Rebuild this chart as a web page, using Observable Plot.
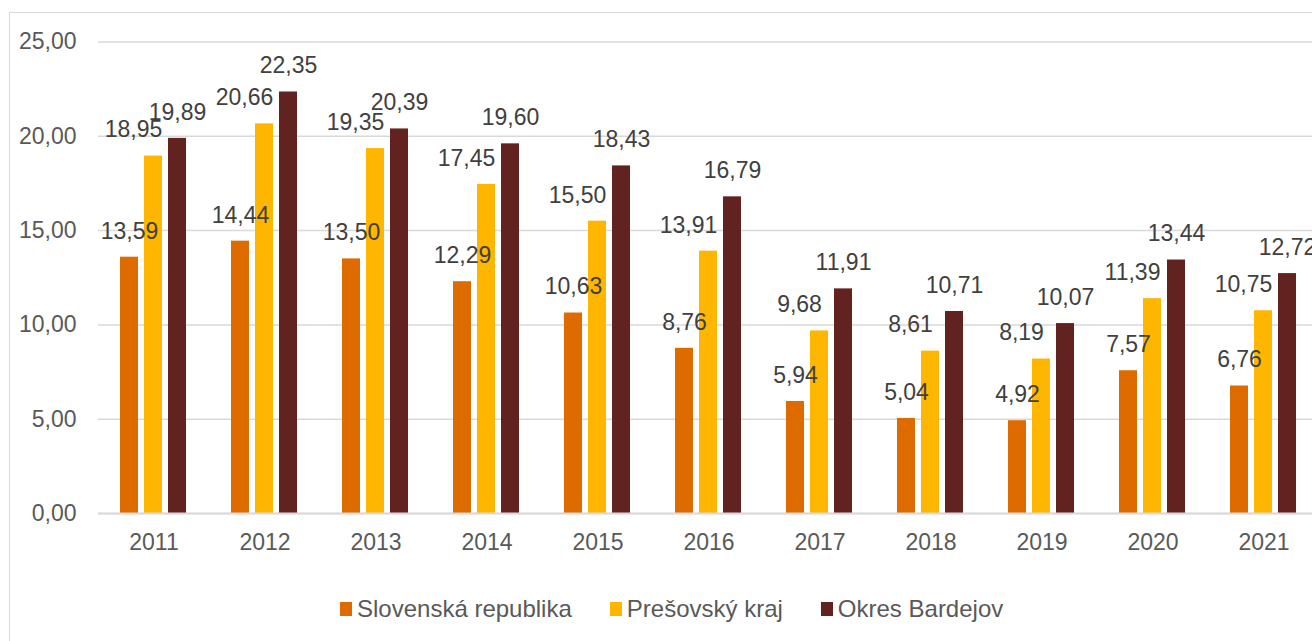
<!DOCTYPE html>
<html>
<head>
<meta charset="utf-8">
<script src="https://cdn.jsdelivr.net/npm/d3@7"></script>
<script src="https://cdn.jsdelivr.net/npm/@observablehq/plot@0.6"></script>
<style>
  html, body { margin: 0; padding: 0; background: #fff; overflow: hidden; }
  #wrap { position: relative; width: 1312px; height: 641px; overflow: hidden; font-family: "Liberation Sans", Arial, sans-serif; }
  #frame { position: absolute; left: 9px; top: 12px; width: 1400px; height: 700px; border: 1.5px solid #d9d9d9; }
  #chart { position: absolute; left: 0; top: 0; }
  #legend { position: absolute; left: 340px; top: 597px; display: flex; align-items: center; white-space: nowrap; }
  .item { display: flex; align-items: center; margin-right: 38px; }
  .sw { width: 12px; height: 14px; margin-right: 5px; }
  .lab { font-size: 24px; line-height: 24px; color: #595959; }
</style>
</head>
<body>
<div id="wrap">
  <div id="frame"></div>
  <div id="chart"></div>
  <div id="legend"></div>
</div>
<script>
const years = ["2011","2012","2013","2014","2015","2016","2017","2018","2019","2020","2021"];
const seriesNames = ["Slovenská republika", "Prešovský kraj", "Okres Bardejov"];
const slovensko = [13.59, 14.44, 13.50, 12.29, 10.63, 8.76, 5.94, 5.04, 4.92, 7.57, 6.76];
const presov = [18.95, 20.66, 19.35, 17.45, 15.50, 13.91, 9.68, 8.61, 8.19, 11.39, 10.75];
const bardejov = [19.89, 22.35, 20.39, 19.60, 18.43, 16.79, 11.91, 10.71, 10.07, 13.44, 12.72];
const yTicks = [0, 5, 10, 15, 20, 25];
const colors = ["#DD6B00", "#FFB600", "#622220"];

const seriesValues = [slovensko, presov, bardejov];
const data = [];
years.forEach((yr, i) => {
  seriesNames.forEach((s, j) => data.push({year: yr, series: s, value: seriesValues[j][i]}));
});
const fmt = v => v.toFixed(2).replace(".", ",");

const chart = Plot.plot({
  width: 1312,
  height: 570,
  marginTop: 41.5,
  marginBottom: 57,
  marginLeft: 95,
  marginRight: 0,
  style: {fontFamily: '"Liberation Sans", Arial, sans-serif', background: "transparent", overflow: "hidden"},
  fx: {domain: years, range: [94.7, 1322.3], padding: 0, label: null},
  x: {domain: seriesNames, paddingInner: 0.24, paddingOuter: 0.85, axis: null},
  y: {domain: [0, 25], label: null},
  color: {domain: seriesNames, range: colors},
  marks: [
    Plot.gridY(yTicks, {stroke: "#d9d9d9", strokeOpacity: 1, strokeWidth: 1.5}),
    Plot.axisY(yTicks, {tickSize: 0, tickPadding: 22, fontSize: 23, fill: "#595959", tickFormat: fmt, label: null}),
    Plot.axisFx({anchor: "bottom", tickSize: 0, tickPadding: 20, fontSize: 23, fill: "#595959", label: null}),
    Plot.barY(data, {fx: "year", x: "series", y: "value", fill: "series"}),
    Plot.ruleY([0], {stroke: "#d9d9d9", strokeWidth: 2}),
    Plot.text(data.filter(d => d.series !== seriesNames[1]), {fx: "year", x: "series", y: "value", text: d => fmt(d.value), dy: -26, fontSize: 23, fill: "#404040"}),
    Plot.text(data.filter(d => d.series === seriesNames[1]), {fx: "year", x: "series", y: "value", text: d => fmt(d.value), dy: -26, dx: -20, fontSize: 23, fill: "#404040"})
  ]
});
document.getElementById("chart").appendChild(chart);

const legend = document.getElementById("legend");
seriesNames.forEach((s, j) => {
  const it = document.createElement("div");
  it.className = "item";
  const sw = document.createElement("span");
  sw.className = "sw";
  sw.style.background = colors[j];
  const lb = document.createElement("span");
  lb.className = "lab";
  lb.textContent = s;
  it.appendChild(sw); it.appendChild(lb);
  legend.appendChild(it);
});
</script>
</body>
</html>
